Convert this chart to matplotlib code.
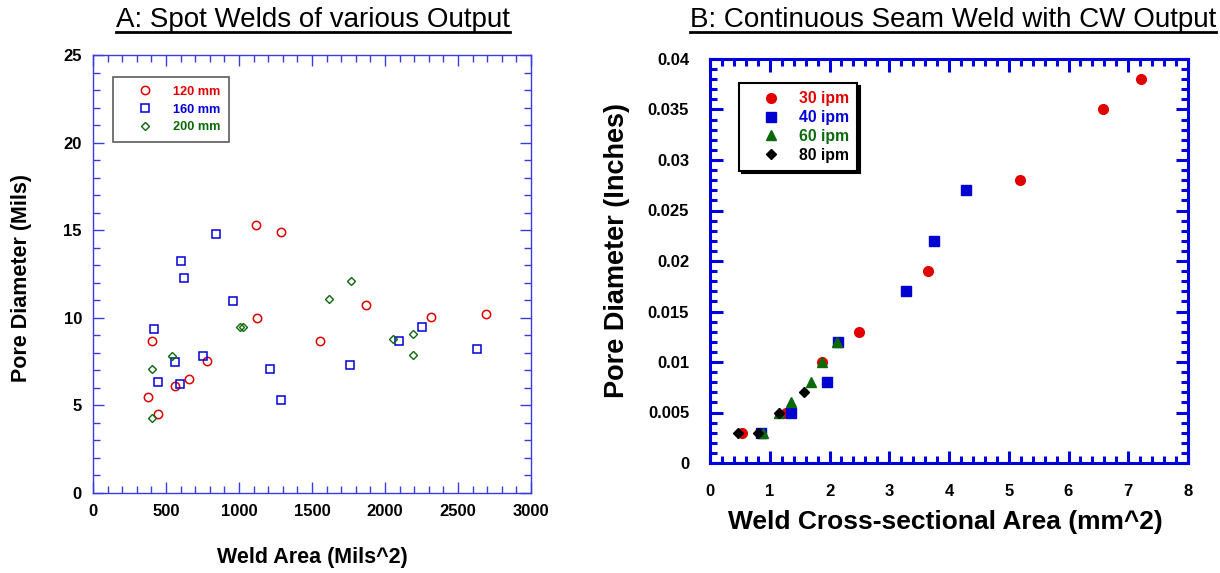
import matplotlib
matplotlib.use('Agg')
from matplotlib import pyplot as plt
from matplotlib.lines import Line2D
from matplotlib.ticker import MultipleLocator

# ---- chart A: spot welds ----
a120_x = [1115, 1285, 1870, 2315, 2690, 1125, 1555, 405, 780, 655, 565, 375, 445]
a120_y = [15.3, 14.9, 10.75, 10.05, 10.2, 10.0, 8.65, 8.65, 7.55, 6.5, 6.1, 5.5, 4.5]
a160_x = [840, 600, 620, 960, 418, 560, 750, 1210, 445, 595, 1290, 1760, 2095, 2250, 2630]
a160_y = [14.8, 13.25, 12.3, 10.95, 9.35, 7.5, 7.8, 7.1, 6.35, 6.2, 5.3, 7.3, 8.7, 9.5, 8.2]
a200_x = [1765, 1615, 1005, 1025, 2055, 2190, 2190, 540, 405, 405]
a200_y = [12.1, 11.1, 9.5, 9.5, 8.8, 9.1, 7.9, 7.8, 7.1, 4.3]

# ---- chart B: continuous seam weld ----
b30_x = [7.22, 6.57, 5.19, 3.65, 2.5, 1.87, 1.27, 0.54]
b30_y = [0.038, 0.035, 0.028, 0.019, 0.013, 0.010, 0.005, 0.003]
b40_x = [4.28, 3.75, 3.28, 2.14, 1.96, 1.36, 0.86]
b40_y = [0.027, 0.022, 0.017, 0.012, 0.008, 0.005, 0.003]
b60_x = [2.12, 1.87, 1.69, 1.36, 1.15, 0.89]
b60_y = [0.012, 0.010, 0.008, 0.006, 0.005, 0.003]
b80_x = [1.58, 1.16, 0.81, 0.47]
b80_y = [0.007, 0.005, 0.003, 0.003]

RED = '#e00000'
BLUE = '#0000d8'
GREEN = '#0a6a0a'

plt.rcParams['font.family'] = ['Liberation Sans', 'DejaVu Sans']

W, H = 1220, 573
fig = plt.figure(figsize=(W / 100, H / 100), dpi=100)


def px_box(l, t, r, b):
    return [l / W, (H - b) / H, (r - l) / W, (b - t) / H]


def style_axes(ax, color, lw, maj, mnr, fs, pad):
    for s in ax.spines.values():
        s.set_color(color)
        s.set_linewidth(lw)
    ax.tick_params(which='both', direction='in', top=True, right=True,
                   color=color, width=lw, labelsize=fs, pad=pad)
    ax.tick_params(which='major', length=maj)
    ax.tick_params(which='minor', length=mnr)
    for lab in ax.get_xticklabels() + ax.get_yticklabels():
        lab.set_fontweight('bold')


# chart A
axA = fig.add_axes(px_box(93, 55, 531, 493))
axA.plot(a120_x, a120_y, 'o', ls='none', mfc='none', mec=RED, ms=6, mew=1.1, label='120 mm')
axA.plot(a160_x, a160_y, 's', ls='none', mfc='none', mec=BLUE, ms=6.2, mew=1.1, label='160 mm')
axA.plot(a200_x, a200_y, 'D', ls='none', mfc='none', mec=GREEN, ms=4.2, mew=1.0, label='200 mm')
axA.set_xlim(0, 3000)
axA.set_ylim(0, 25)
axA.xaxis.set_major_locator(MultipleLocator(500))
axA.xaxis.set_minor_locator(MultipleLocator(100))
axA.yaxis.set_major_locator(MultipleLocator(5))
axA.yaxis.set_minor_locator(MultipleLocator(1))
style_axes(axA, '#3a3ae0', 1.0, 8, 5, 12, 8)
legA = axA.legend(loc='upper left', bbox_to_anchor=(0.046, 0.95), frameon=True, fancybox=False,
                  edgecolor='#333333', borderpad=0.7, handlelength=3.6, handletextpad=0.35,
                  labelspacing=0.45, borderaxespad=0, prop={'weight': 'bold', 'size': 9.2})
legA.get_frame().set_linewidth(1.2)
for t, c in zip(legA.get_texts(), [RED, BLUE, GREEN]):
    t.set_color(c)

# chart B
axB = fig.add_axes(px_box(710, 59, 1188, 463))
axB.plot(b30_x, b30_y, 'o', ls='none', color='#e00000', ms=7, label='30 ipm')
axB.plot(b40_x, b40_y, 's', ls='none', color='#0000d0', ms=7, label='40 ipm')
axB.plot(b60_x, b60_y, '^', ls='none', color='#0a6a0a', ms=6.5, label='60 ipm')
axB.plot(b80_x, b80_y, 'D', ls='none', color='black', ms=5, label='80 ipm')
axB.set_xlim(0, 8)
axB.set_ylim(0, 0.04)
axB.xaxis.set_major_locator(MultipleLocator(1))
axB.xaxis.set_minor_locator(MultipleLocator(0.2))
axB.yaxis.set_major_locator(MultipleLocator(0.005))
axB.yaxis.set_minor_locator(MultipleLocator(0.001))
axB.set_yticks([0, 0.005, 0.01, 0.015, 0.02, 0.025, 0.03, 0.035, 0.04])
axB.set_yticklabels(['0', '0.005', '0.01', '0.015', '0.02', '0.025', '0.03', '0.035', '0.04'])
style_axes(axB, '#0000dd', 2.2, 9, 5, 12, 15)
legB = axB.legend(loc='upper left', bbox_to_anchor=(0.061, 0.94), frameon=True, fancybox=False,
                  edgecolor='black', borderpad=0.5, handlelength=3.0, handletextpad=0.3,
                  labelspacing=0.25, borderaxespad=0, shadow={'color': 'black', 'alpha': 1},
                  prop={'weight': 'bold', 'size': 11.3})
legB.get_frame().set_linewidth(1.5)
for t, c in zip(legB.get_texts(), [RED, BLUE, GREEN, 'black']):
    t.set_color(c)

# axis labels
fig.text(312 / W, 1 - 557 / H, 'Weld Area (Mils^2)', ha='center', va='center',
         fontsize=15.5, fontweight='bold')
fig.text(22 / W, 1 - 278 / H, 'Pore Diameter (Mils)', ha='center', va='center',
         rotation=90, fontsize=15.5, fontweight='bold')
fig.text(945 / W, 1 - 522 / H, 'Weld Cross-sectional Area (mm^2)', ha='center', va='center',
         fontsize=19, fontweight='bold')
fig.text(617 / W, 1 - 250 / H, 'Pore Diameter (Inches)', ha='center', va='center',
         rotation=90, fontsize=19.5, fontweight='bold')

# underlined titles
titles = []
titles.append(fig.text(313 / W, 1 - 27 / H, 'A: Spot Welds of various Output', ha='center',
                       va='baseline', fontsize=20))
titles.append(fig.text(953 / W, 1 - 27 / H, 'B: Continuous Seam Weld with CW Output', ha='center',
                       va='baseline', fontsize=20))
fig.canvas.draw()
rend = fig.canvas.get_renderer()
for t in titles:
    bb = t.get_window_extent(rend)
    y = (H - 32) / H
    fig.add_artist(Line2D([bb.x0 / W, bb.x1 / W], [y, y], color='black', lw=2,
                          transform=fig.transFigure))

fig.savefig('out.png', dpi=100)
plt.close()
